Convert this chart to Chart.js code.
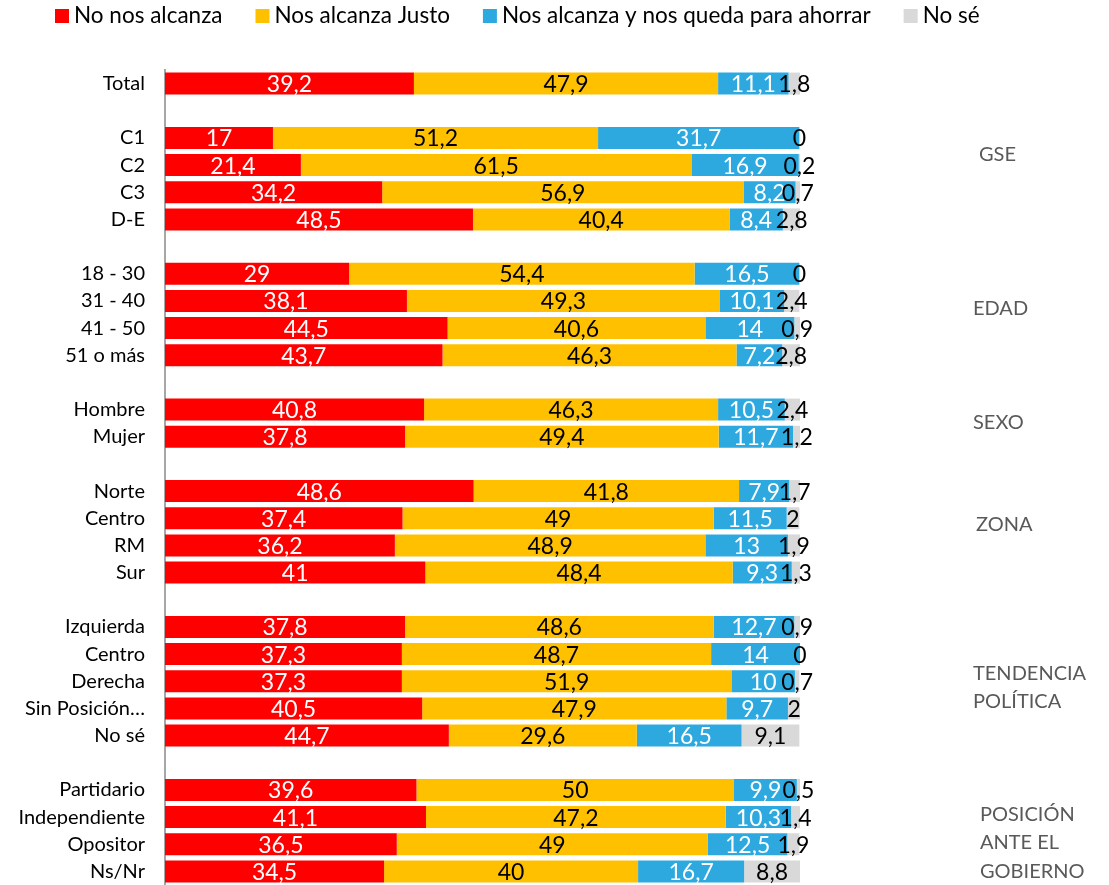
<!DOCTYPE html>
<html>
<head>
<meta charset="utf-8">
<script src="https://cdn.jsdelivr.net/npm/chart.js@4.4.1/dist/chart.umd.min.js"></script>
<style>
  html, body { margin: 0; padding: 0; background: #fff; }
</style>
</head>
<body>
<canvas id="chart" width="1109" height="885"></canvas>
<script>
// categories ('' = spacer row between groups)
const categories = [
  'Total', '',
  'C1', 'C2', 'C3', 'D-E', '',
  '18 - 30', '31 - 40', '41 - 50', '51 o más', '',
  'Hombre', 'Mujer', '',
  'Norte', 'Centro', 'RM', 'Sur', '',
  'Izquierda', 'Centro', 'Derecha', 'Sin Posición…', 'No sé', '',
  'Partidario', 'Independiente', 'Opositor', 'Ns/Nr'
];
const seriesNames = ['No nos alcanza', 'Nos alcanza Justo', 'Nos alcanza y nos queda para ahorrar', 'No sé'];

const noAlcanza = [39.2, null, 17, 21.4, 34.2, 48.5, null, 29, 38.1, 44.5, 43.7, null, 40.8, 37.8, null,
  48.6, 37.4, 36.2, 41, null, 37.8, 37.3, 37.3, 40.5, 44.7, null, 39.6, 41.1, 36.5, 34.5];
const alcanzaJusto = [47.9, null, 51.2, 61.5, 56.9, 40.4, null, 54.4, 49.3, 40.6, 46.3, null, 46.3, 49.4, null,
  41.8, 49, 48.9, 48.4, null, 48.6, 48.7, 51.9, 47.9, 29.6, null, 50, 47.2, 49, 40];
const alcanzaAhorrar = [11.1, null, 31.7, 16.9, 8.2, 8.4, null, 16.5, 10.1, 14, 7.2, null, 10.5, 11.7, null,
  7.9, 11.5, 13, 9.3, null, 12.7, 14, 10, 9.7, 16.5, null, 9.9, 10.3, 12.5, 16.7];
const noSe = [1.8, null, 0, 0.2, 0.7, 2.8, null, 0, 2.4, 0.9, 2.8, null, 2.4, 1.2, null,
  1.7, 2, 1.9, 1.3, null, 0.9, 0, 0.7, 2, 9.1, null, 0.5, 1.4, 1.9, 8.8];

const groupLabels = [['GSE'], ['EDAD'], ['SEXO'], ['ZONA'], ['TENDENCIA', 'POLÍTICA'], ['POSICIÓN', 'ANTE EL', 'GOBIERNO']];

//colors
var red = '#FF0000';
var yellow = '#FFC000';
var blue = '#2EA9E0';
var grey = '#D9D9D9';
const labelColors = ['#FFFFFF', '#000000', '#FFFFFF', '#000000'];

const fmt = v => String(v).replace('.', ',');

//---------------value labels inside segments
const valueLabels = {
  id: 'valueLabels',
  afterDatasetsDraw(chart) {
    const ctx = chart.ctx;
    ctx.save();
    ctx.font = '23px Lato';
    ctx.textAlign = 'center';
    ctx.textBaseline = 'middle';
    chart.data.datasets.forEach((ds, i) => {
      chart.getDatasetMeta(i).data.forEach((bar, j) => {
        const v = ds.data[j];
        if (v === null || v === undefined) return;
        const p = bar.getProps(['x', 'base', 'y'], true);
        ctx.fillStyle = labelColors[i];
        ctx.fillText(fmt(v), (p.x + p.base) / 2, p.y + 1);
      });
    });
    ctx.restore();
  }
};

//---------------legend on top
const topLegend = {
  id: 'topLegend',
  afterDraw(chart) {
    const ctx = chart.ctx;
    ctx.save();
    ctx.font = '22.5px Lato';
    ctx.textBaseline = 'middle';
    let x = 55;
    chart.data.datasets.forEach(ds => {
      ctx.fillStyle = ds.backgroundColor;
      ctx.fillRect(x, 9, 14, 14);
      ctx.fillStyle = '#000';
      ctx.fillText(ds.label, x + 19, 16);
      x += 19 + ctx.measureText(ds.label).width + 33;
    });
    ctx.restore();
  }
};

//---------------group names at the right
const groupAnchors = [
  { row: 2.62, x: 979 },
  { row: 8.29, x: 973 },
  { row: 12.49, x: 973 },
  { row: 16.23, x: 976 },
  { row: 22.24, x: 973 },
  { row: 27.95, x: 980 }
];
const groupNames = {
  id: 'groupNames',
  afterDraw(chart) {
    const ctx = chart.ctx;
    const yScale = chart.scales.y;
    const step = yScale.getPixelForValue(1) - yScale.getPixelForValue(0);
    ctx.save();
    ctx.font = '20px Lato';
    ctx.fillStyle = '#595959';
    ctx.textBaseline = 'middle';
    groupLabels.forEach((lines, g) => {
      const a = groupAnchors[g];
      const yc = yScale.getPixelForValue(0) + a.row * step;
      const lh = 28.5;
      lines.forEach((t, k) => {
        ctx.fillText(t, a.x, yc + (k - (lines.length - 1) / 2) * lh);
      });
    });
    ctx.restore();
  }
};

const data = {
  labels: categories,
  datasets: [
    { label: seriesNames[0], data: noAlcanza, backgroundColor: red },
    { label: seriesNames[1], data: alcanzaJusto, backgroundColor: yellow },
    { label: seriesNames[2], data: alcanzaAhorrar, backgroundColor: blue },
    { label: seriesNames[3], data: noSe, backgroundColor: grey }
  ]
};

new Chart(document.getElementById('chart'), {
  type: 'bar',
  data: data,
  plugins: [valueLabels, topLegend, groupNames],
  options: {
    responsive: false,
    animation: false,
    indexAxis: 'y',
    categoryPercentage: 0.81,
    barPercentage: 1,
    layout: { padding: { top: 70, right: 309, bottom: 0, left: 0 } },
    plugins: {
      legend: { display: false },
      tooltip: { enabled: false }
    },
    scales: {
      x: {
        stacked: true,
        min: 0,
        max: 100,
        display: false
      },
      y: {
        stacked: true,
        grid: { display: false, drawTicks: false },
        border: { display: true, color: '#A6A6A6', width: 2 },
        ticks: {
          autoSkip: false,
          padding: 20,
          color: '#000',
          font: { family: 'Lato', size: 20 }
        },
        afterFit(scale) {
          scale.width = 165;
          scale.paddingTop = 0;
          scale.paddingBottom = 0;
        }
      }
    }
  }
});
</script>
</body>
</html>
